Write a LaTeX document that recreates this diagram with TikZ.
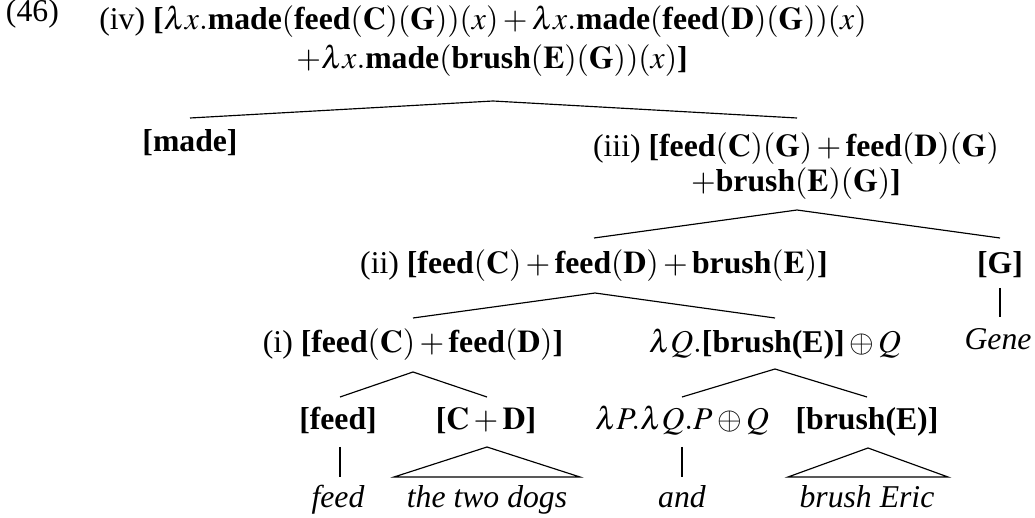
\documentclass[tikz,border=0pt]{standalone}
\usepackage{mathptmx}
\usepackage{fontspec}
\setmainfont{Liberation Serif}
\usetikzlibrary{calc}
\tikzset{
  lbl/.style={inner sep=0pt, outer sep=0pt, anchor=base, font=\fontsize{12.3}{14}\selectfont},
  edge/.style={line width=0.45pt, line join=miter},
}
\newcommand{\bb}[1]{\textbf{#1}}
\begin{document}
\begin{tikzpicture}[x=0.3878pt, y=-0.3878pt]
\useasboundingbox (0,0) rectangle (1035,518);
% nodes (multi-line nodes: base = last line)
\node[lbl, anchor=base west] (n46) at (6,22) {(46)};
\node[lbl, align=center, font=\fontsize{12.3}{15.2}\selectfont] (top) at (483,69)
  {(iv) \bb{[}$\lambda x.\bb{made}(\bb{feed}(\mathbf{C})(\mathbf{G}))(x)+\lambda x.\bb{made}(\bb{feed}(\mathbf{D})(\mathbf{G}))(x)$\\
   \rule{7pt}{0pt}$+\lambda x.\bb{made}(\bb{brush}(\mathbf{E})(\mathbf{G}))(x)$\bb{]}};
\node[lbl] (made) at (190,152) {\bb{[made]}};
\node[lbl, align=center, font=\fontsize{12.3}{13.8}\selectfont] (iii) at (796,192)
  {(iii) \bb{[}$\bb{feed}(\mathbf{C})(\mathbf{G})+\bb{feed}(\mathbf{D})(\mathbf{G})$\\
   $+\bb{brush}(\mathbf{E})(\mathbf{G})$\bb{]}};
\node[lbl] (ii) at (594,274) {(ii) \bb{[}$\bb{feed}(\mathbf{C})+\bb{feed}(\mathbf{D})+\bb{brush}(\mathbf{E})$\bb{]}};
\node[lbl] (G) at (1000,274) {\bb{[G]}};
\node[lbl] (i) at (413,353) {(i) \bb{[}$\bb{feed}(\mathbf{C})+\bb{feed}(\mathbf{D})$\bb{]}};
\node[lbl] (lq) at (775,353) {$\lambda Q.\mbox{\bb{[brush(E)]}}\oplus Q$};
\node[lbl] (gene) at (998,350) {\textit{Gene}};
\node[lbl] (feedB) at (338,430) {\bb{[feed]}};
\node[lbl] (cd) at (486,430) {\bb{[}$\mathbf{C}+\mathbf{D}$\bb{]}};
\node[lbl] (lp) at (682,430) {$\lambda P.\lambda Q.P\oplus Q$};
\node[lbl] (brE) at (867,430) {\bb{[brush(E)]}};
\node[lbl] (feedL) at (338,508) {\textit{feed}};
\node[lbl] (dogs) at (487,508) {\textit{the two dogs}};
\node[lbl] (and) at (682,508) {\textit{and}};
\node[lbl] (eric) at (867,508) {\textit{brush Eric}};
% connectors
\draw[edge] ($(made.base)+(0,-34)$) -- ($(top.base)+(10,32)$) -- ($(iii.base)+(1,-74)$);
\draw[edge] ($(ii.base)+(0,-36)$) -- ($(iii.base)+(1,18)$) -- ($(G.base)+(0,-36)$);
\draw[edge] ($(i.base)+(0,-35)$) -- ($(ii.base)+(1,19)$) -- ($(lq.base)+(0,-35)$);
\draw[edge] ($(G.base)+(0,14)$) -- ($(gene.base)+(2,-33)$);
\draw[edge] ($(feedB.base)+(2,-33)$) -- ($(i.base)+(0,19)$) -- ($(cd.base)+(1,-33)$);
\draw[edge] ($(feedB.base)+(2,17)$) -- ($(feedL.base)+(2,-31)$);
\draw[edge] ($(cd.base)+(1,17)$) -- ($(dogs.base)+(-93,-31)$) -- ($(dogs.base)+(93,-31)$) -- cycle;
\draw[edge] ($(lp.base)+(0,-33)$) -- ($(lq.base)+(0,16)$) -- ($(brE.base)+(0,-33)$);
\draw[edge] ($(lp.base)+(0,17)$) -- ($(and.base)+(0,-31)$);
\draw[edge] ($(brE.base)+(1,18)$) -- ($(eric.base)+(-79,-31)$) -- ($(eric.base)+(81,-31)$) -- cycle;
\end{tikzpicture}
\end{document}
